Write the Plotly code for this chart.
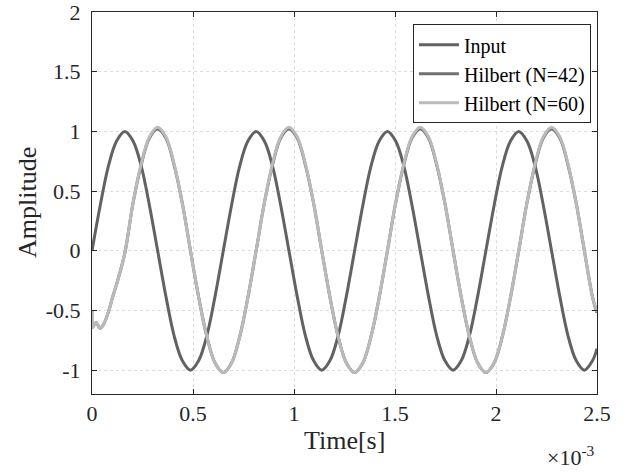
import plotly.graph_objects as go

# time in milliseconds (axis shows ×10^-3 s)
t_input = [0, 0.040625, 0.08125, 0.121875, 0.1625, 0.203125, 0.24375, 0.284375,
           0.325, 0.365625, 0.40625, 0.446875, 0.4875, 0.528125, 0.56875, 0.609375,
           0.65, 0.690625, 0.73125, 0.771875, 0.8125, 0.853125, 0.89375, 0.934375,
           0.975, 1.015625, 1.05625, 1.096875, 1.1375, 1.178125, 1.21875, 1.259375,
           1.3, 1.340625, 1.38125, 1.421875, 1.4625, 1.503125, 1.54375, 1.584375,
           1.625, 1.665625, 1.70625, 1.746875, 1.7875, 1.828125, 1.86875, 1.909375,
           1.95, 1.990625, 2.03125, 2.071875, 2.1125, 2.153125, 2.19375, 2.234375,
           2.275, 2.315625, 2.35625, 2.396875, 2.4375, 2.478125, 2.5]
v_input = [0, 0.38, 0.71, 0.92, 1.0, 0.92, 0.71, 0.38,
           0, -0.38, -0.71, -0.92, -1.0, -0.92, -0.71, -0.38,
           0, 0.38, 0.71, 0.92, 1.0, 0.92, 0.71, 0.38,
           0, -0.38, -0.71, -0.92, -1.0, -0.92, -0.71, -0.38,
           0, 0.38, 0.71, 0.92, 1.0, 0.92, 0.71, 0.38,
           0, -0.38, -0.71, -0.92, -1.0, -0.92, -0.71, -0.38,
           0, 0.38, 0.71, 0.92, 1.0, 0.92, 0.71, 0.38,
           0, -0.38, -0.71, -0.92, -1.0, -0.92, -0.82]

t_hilb = [0, 0.004, 0.02, 0.04, 0.056, 0.08, 0.1, 0.121875, 0.1625,
          0.203125, 0.24375, 0.284375,
          0.325, 0.365625, 0.40625, 0.446875, 0.4875, 0.528125, 0.56875, 0.609375,
          0.65, 0.690625, 0.73125, 0.771875, 0.8125, 0.853125, 0.89375, 0.934375,
          0.975, 1.015625, 1.05625, 1.096875, 1.1375, 1.178125, 1.21875, 1.259375,
          1.3, 1.340625, 1.38125, 1.421875, 1.4625, 1.503125, 1.54375, 1.584375,
          1.625, 1.665625, 1.70625, 1.746875, 1.7875, 1.828125, 1.86875, 1.909375,
          1.95, 1.990625, 2.03125, 2.071875, 2.1125, 2.153125, 2.19375, 2.234375,
          2.275, 2.315625, 2.35625, 2.396875, 2.4375, 2.478125, 2.5]
v_h42 = [-0.50, -0.64, -0.60, -0.65, -0.62, -0.52, -0.40, -0.28, -0.02,
         0.40, 0.72, 0.945,
         1.02, 0.945, 0.72, 0.40, 0, -0.39, -0.72, -0.94,
         -1.02, -0.94, -0.72, -0.39, 0, 0.40, 0.72, 0.945,
         1.02, 0.945, 0.72, 0.40, 0, -0.39, -0.72, -0.94,
         -1.02, -0.94, -0.72, -0.39, 0, 0.40, 0.72, 0.945,
         1.02, 0.945, 0.72, 0.40, 0, -0.39, -0.72, -0.94,
         -1.02, -0.94, -0.72, -0.39, 0, 0.40, 0.72, 0.945,
         1.02, 0.945, 0.72, 0.40, 0, -0.39, -0.52]
v_h60 = [-0.50, -0.64, -0.60, -0.65, -0.62, -0.52, -0.40, -0.28, -0.02,
         0.40, 0.73, 0.955,
         1.035, 0.955, 0.73, 0.40, 0, -0.39, -0.72, -0.94,
         -1.02, -0.94, -0.72, -0.39, 0, 0.40, 0.73, 0.955,
         1.035, 0.955, 0.73, 0.40, 0, -0.39, -0.72, -0.94,
         -1.02, -0.94, -0.72, -0.39, 0, 0.40, 0.73, 0.955,
         1.035, 0.955, 0.73, 0.40, 0, -0.39, -0.72, -0.94,
         -1.02, -0.94, -0.72, -0.39, 0, 0.40, 0.73, 0.955,
         1.035, 0.955, 0.73, 0.40, 0, -0.39, -0.51]

x_ticks = [0, 0.5, 1, 1.5, 2, 2.5]
x_ticklabels = ["0", "0.5", "1", "1.5", "2", "2.5"]
y_ticks = [-1, -0.5, 0, 0.5, 1, 1.5, 2]
y_ticklabels = ["-1", "-0.5", "0", "0.5", "1", "1.5", "2"]

FONT = "Liberation Serif"
INK = "#262626"

fig = go.Figure()
fig.add_trace(go.Scatter(x=t_input, y=v_input, mode="lines", name="Input",
                         line=dict(color="rgb(98,98,98)", width=3, shape="spline")))
fig.add_trace(go.Scatter(x=t_hilb, y=v_h42, mode="lines", name="Hilbert (N=42)",
                         line=dict(color="rgb(112,112,112)", width=3, shape="spline")))
fig.add_trace(go.Scatter(x=t_hilb, y=v_h60, mode="lines", name="Hilbert (N=60)",
                         line=dict(color="rgb(186,186,186)", width=3, shape="spline")))

axis_common = dict(showline=True, linecolor=INK, linewidth=1, mirror="ticks",
                   ticks="inside", ticklen=5, tickcolor=INK, automargin=False,
                   showgrid=True, gridcolor="rgb(222,222,222)", griddash="dot",
                   gridwidth=1, zeroline=False, ticklabeloverflow="allow",
                   tickfont=dict(family=FONT, size=22, color=INK))

fig.update_xaxes(range=[0, 2.5], tickvals=x_ticks, ticktext=x_ticklabels, **axis_common)
fig.update_yaxes(range=[-1.2, 2.0005], tickvals=y_ticks, ticktext=y_ticklabels,
                 ticklabelstandoff=6, **axis_common)

fig.add_annotation(text="Amplitude", xref="paper", yref="paper", x=0, y=0.5,
                   xanchor="center", yanchor="middle", xshift=-65, textangle=-90,
                   showarrow=False, font=dict(family=FONT, size=26, color=INK))
fig.add_annotation(text="Time[s]", xref="paper", yref="paper", x=0.5, y=0,
                   xanchor="center", yanchor="middle", yshift=-46,
                   showarrow=False, font=dict(family=FONT, size=26, color=INK))
fig.add_annotation(text="×10<sup>-3</sup>", xref="paper", yref="paper",
                   x=1.0, y=0, xanchor="right", yanchor="middle", yshift=-62,
                   showarrow=False, font=dict(family=FONT, size=22, color=INK))

fig.update_layout(
    width=636, height=472,
    margin=dict(l=92, r=39, t=12, b=78, autoexpand=False),
    paper_bgcolor="white", plot_bgcolor="white",
    showlegend=True,
    legend=dict(x=0.988, y=0.968, xanchor="right", yanchor="top",
                bgcolor="white", bordercolor=INK, borderwidth=1,
                font=dict(family=FONT, size=20, color="#000000"),
                tracegroupgap=0, itemwidth=40),
)

fig.write_html("out.html")
